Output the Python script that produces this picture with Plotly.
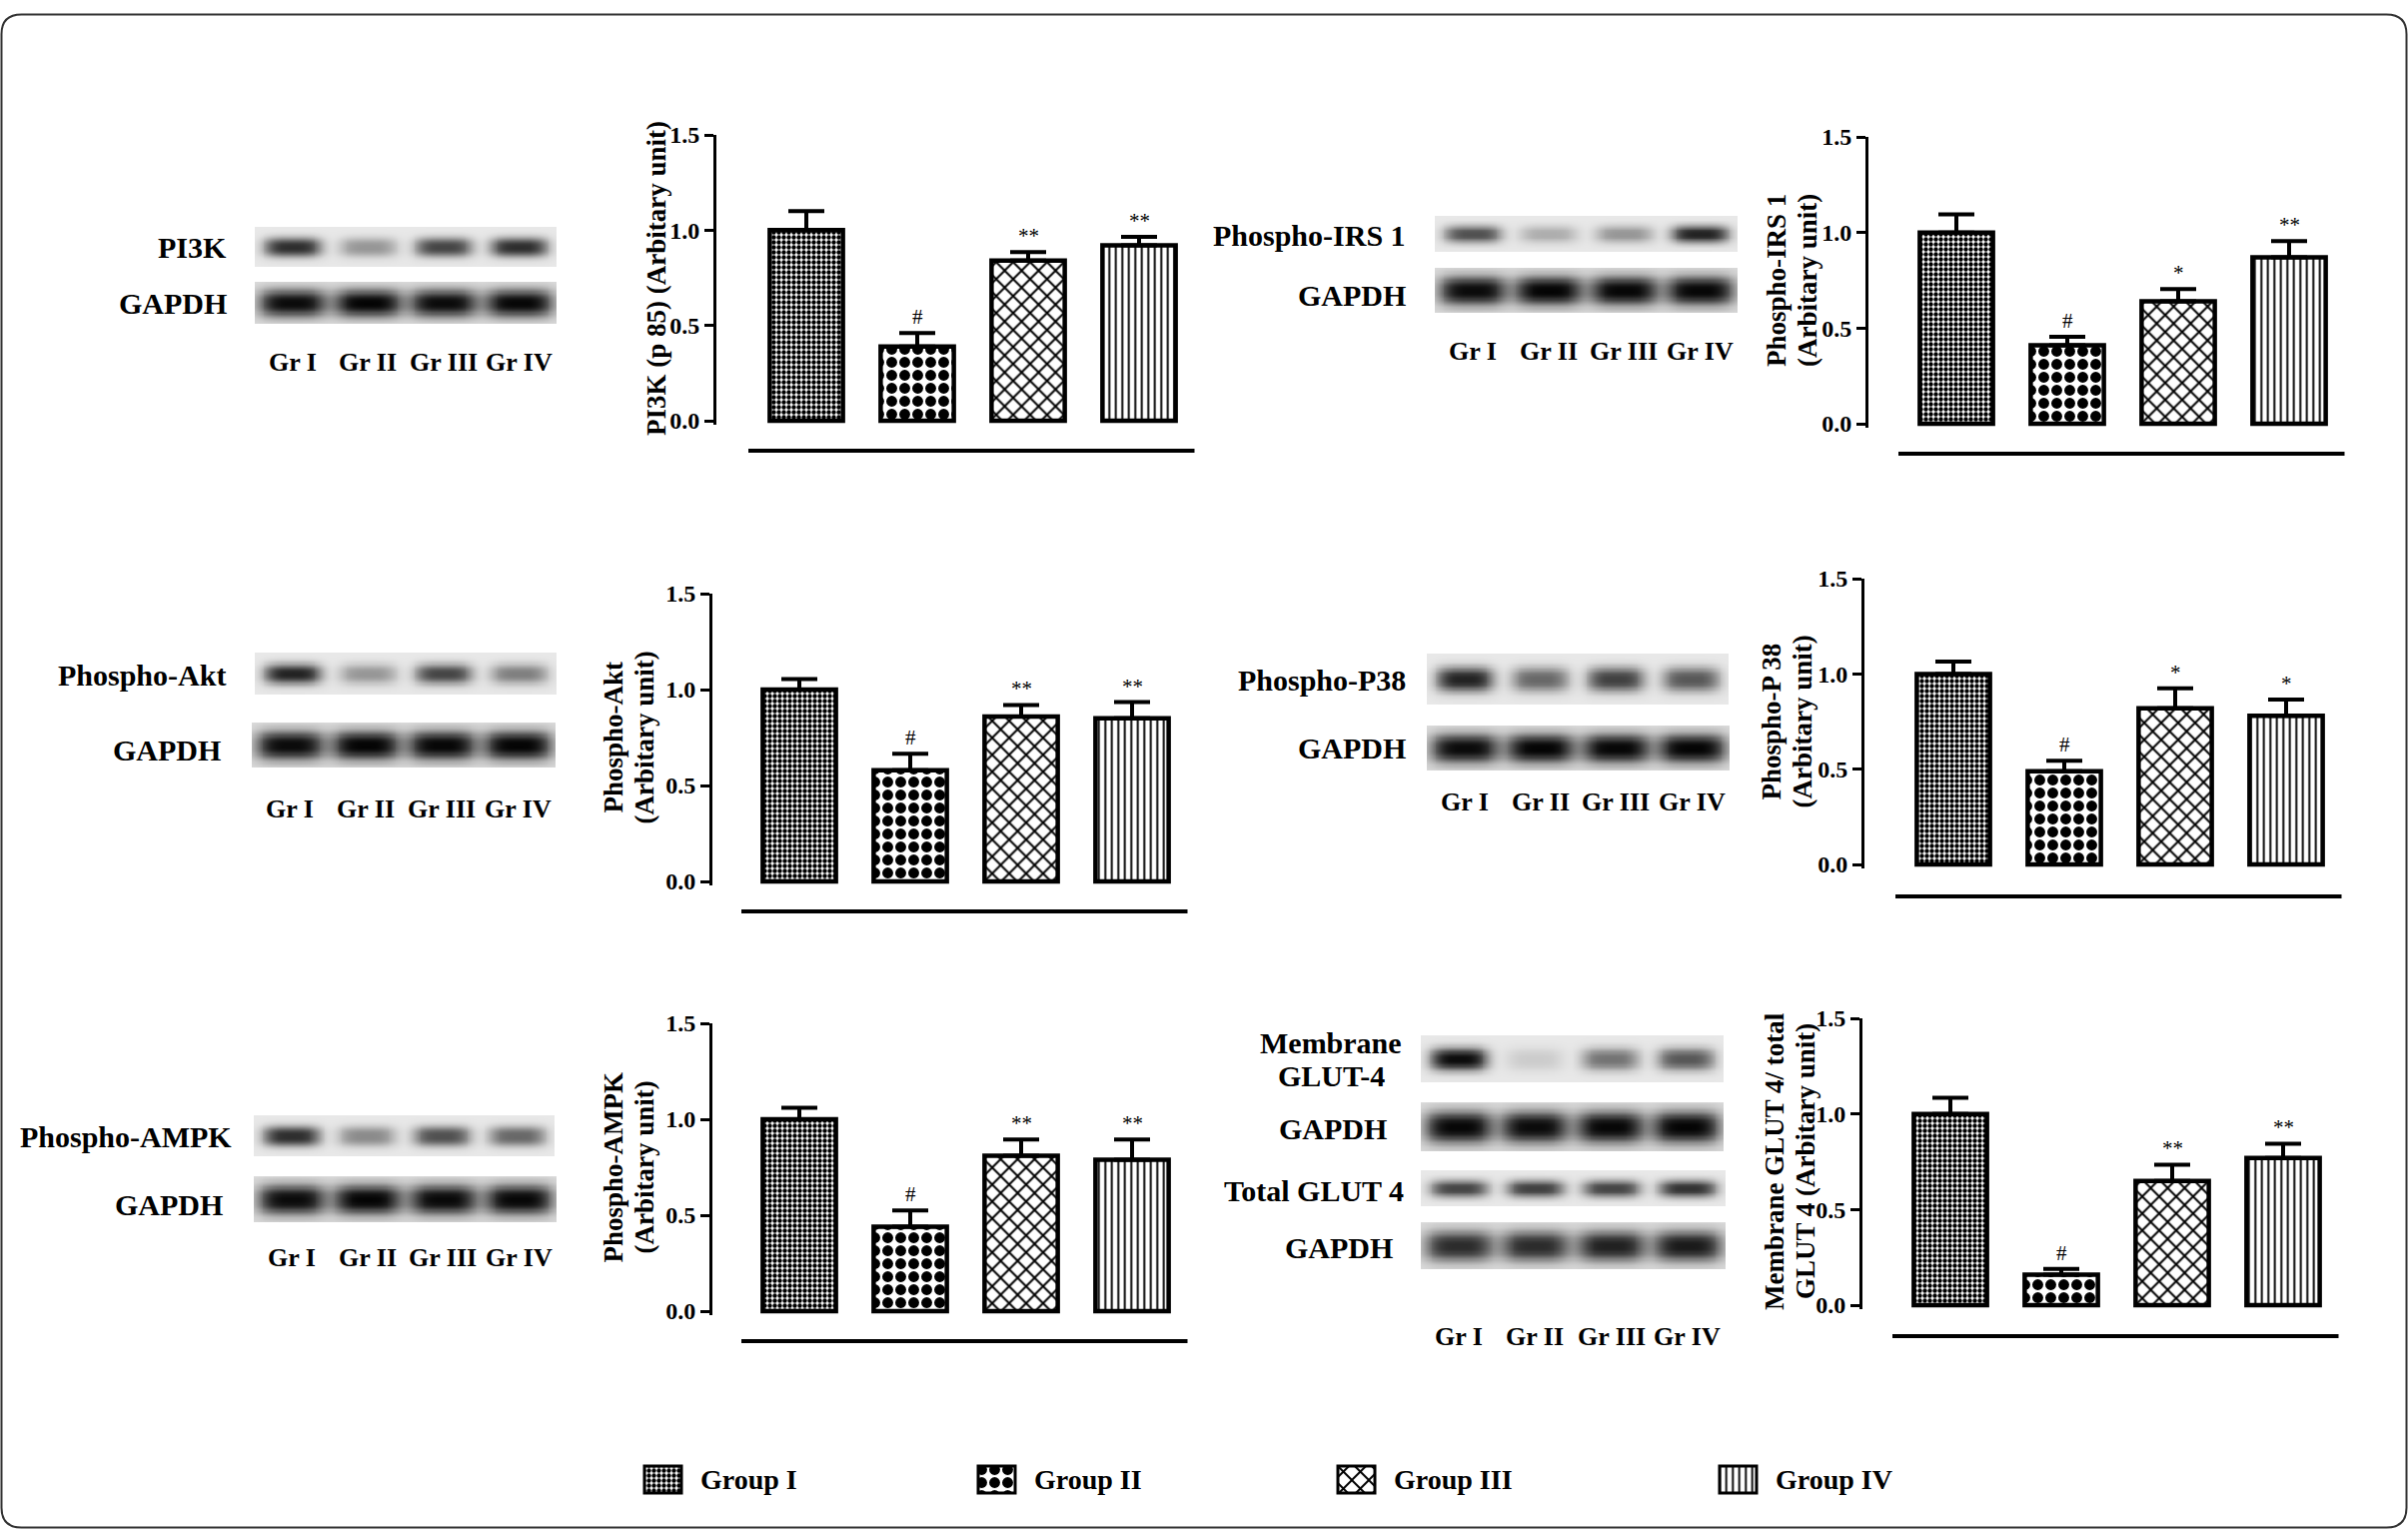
import numpy as np
import plotly.graph_objects as go

W, H = 2410, 1540

groups = ["Group I", "Group II", "Group III", "Group IV"]
lanes = ["Gr I", "Gr II", "Gr III", "Gr IV"]
tick_vals = [0.0, 0.5, 1.0, 1.5]
tick_text = ["0.0", "0.5", "1.0", "1.5"]

# densitometry, mean and SEM per group
pi3k_mean = [1.00, 0.39, 0.84, 0.92]
pi3k_sem = [0.10, 0.07, 0.045, 0.045]
pi3k_sig = ["", "#", "**", "**"]

irs1_mean = [1.00, 0.41, 0.64, 0.87]
irs1_sem = [0.095, 0.045, 0.065, 0.085]
irs1_sig = ["", "#", "*", "**"]

akt_mean = [1.00, 0.58, 0.86, 0.85]
akt_sem = [0.055, 0.085, 0.06, 0.085]
akt_sig = ["", "#", "**", "**"]

p38_mean = [1.00, 0.49, 0.82, 0.78]
p38_sem = [0.065, 0.055, 0.105, 0.085]
p38_sig = ["", "#", "*", "*"]

ampk_mean = [1.00, 0.44, 0.81, 0.79]
ampk_sem = [0.06, 0.085, 0.085, 0.105]
ampk_sig = ["", "#", "**", "**"]

glut4_mean = [1.00, 0.16, 0.65, 0.77]
glut4_sem = [0.085, 0.03, 0.085, 0.075]
glut4_sig = ["", "#", "**", "**"]

# band darkness per lane on the blots (0 = no band, 1 = black)
pi3k_band = [0.80, 0.35, 0.70, 0.80]
pi3k_gapdh = [0.95, 0.98, 0.95, 0.97]
irs1_band = [0.65, 0.25, 0.35, 0.85]
irs1_gapdh = [0.95, 0.98, 0.97, 0.97]
akt_band = [0.85, 0.35, 0.70, 0.45]
akt_gapdh = [0.95, 0.98, 0.97, 0.98]
p38_band = [0.85, 0.55, 0.72, 0.62]
p38_gapdh = [0.95, 0.98, 0.97, 0.98]
ampk_band = [0.80, 0.40, 0.65, 0.55]
ampk_gapdh = [0.95, 0.98, 0.96, 0.97]
mglut4_band = [0.95, 0.12, 0.50, 0.62]
mglut4_gapdh = [0.97, 0.95, 0.97, 0.98]
tglut4_band = [0.70, 0.72, 0.70, 0.78]
tglut4_gapdh = [0.80, 0.80, 0.85, 0.88]

FONT = "Liberation Serif, Times New Roman, serif"
S = 111  # px between bar centres

# the photographed page comes out a little squashed in height; undo that
Y_OFF, Y_SCALE = 13.0, 0.985


def fx(px):
    return px / W


def fy(py):
    return 1 - ((py - Y_OFF) / Y_SCALE) / H


patterns = [
    dict(shape=".", size=5, solidity=0.6, fgcolor="black", bgcolor="white", fgopacity=1),
    dict(shape=".", size=13, solidity=0.55, fgcolor="black", bgcolor="white", fgopacity=1),
    dict(shape="x", size=12, solidity=0.3, fgcolor="black", bgcolor="white", fgopacity=1),
    dict(shape="|", size=6.5, solidity=0.3, fgcolor="black", bgcolor="white", fgopacity=1),
]

# band shape: (half width in lanes, half height in blot units, background)
band_style = {"target": (0.38, 0.24, 0.09), "gapdh": (0.45, 0.32, 0.14)}

panels = [
    dict(mean=pi3k_mean, sem=pi3k_sem, sig=pi3k_sig,
         ytitle=["PI3K (p 85) (Arbitary unit)"], title_x=657,
         axis_x=717, c0=807, y0=421, y15=135, sep_y=451, lane_y=362,
         blots=[(pi3k_band, (255, 557, 227, 267), "target"),
                (pi3k_gapdh, (255, 557, 282, 324), "gapdh")],
         labels=[("PI3K", 229, 247, "right"), ("GAPDH", 229, 303, "right")]),
    dict(mean=irs1_mean, sem=irs1_sem, sig=irs1_sig,
         ytitle=["Phospho-IRS 1", "(Arbitary unit)"], title_x=1793,
         axis_x=1870, c0=1958, y0=424, y15=137, sep_y=454, lane_y=351,
         blots=[(irs1_band, (1436, 1739, 216, 252), "target"),
                (irs1_gapdh, (1436, 1739, 268, 313), "gapdh")],
         labels=[("Phospho-IRS 1", 1409, 235, "right"), ("GAPDH", 1409, 295, "right")]),
    dict(mean=akt_mean, sem=akt_sem, sig=akt_sig,
         ytitle=["Phospho-Akt", "(Arbitary unit)"], title_x=630,
         axis_x=713, c0=800, y0=882, y15=594, sep_y=912, lane_y=809,
         blots=[(akt_band, (255, 557, 653, 695), "target"),
                (akt_gapdh, (252, 556, 723, 768), "gapdh")],
         labels=[("Phospho-Akt", 228, 675, "right"), ("GAPDH", 223, 750, "right")]),
    dict(mean=p38_mean, sem=p38_sem, sig=p38_sig,
         ytitle=["Phospho-P 38", "(Arbitary unit)"], title_x=1789,
         axis_x=1866, c0=1955, y0=865, y15=579, sep_y=897, lane_y=802,
         blots=[(p38_band, (1428, 1730, 654, 705), "target"),
                (p38_gapdh, (1428, 1731, 726, 771), "gapdh")],
         labels=[("Phospho-P38", 1409, 680, "right"), ("GAPDH", 1409, 748, "right")]),
    dict(mean=ampk_mean, sem=ampk_sem, sig=ampk_sig,
         ytitle=["Phospho-AMPK", "(Arbitary unit)"], title_x=630,
         axis_x=713, c0=800, y0=1312, y15=1024, sep_y=1342, lane_y=1258,
         blots=[(ampk_band, (254, 555, 1116, 1157), "target"),
                (ampk_gapdh, (254, 557, 1177, 1223), "gapdh")],
         labels=[("Phospho-AMPK", 234, 1137, "right"), ("GAPDH", 225, 1205, "right")]),
    dict(mean=glut4_mean, sem=glut4_sem, sig=glut4_sig,
         ytitle=["Membrane GLUT 4/ total", "GLUT 4 (Arbitary unit)"], title_x=1791,
         axis_x=1864, c0=1952, y0=1306, y15=1019, sep_y=1337, lane_y=1337,
         blots=[(mglut4_band, (1422, 1725, 1036, 1083), "target"),
                (mglut4_gapdh, (1422, 1725, 1103, 1152), "gapdh"),
                (tglut4_band, (1422, 1727, 1171, 1207), "target"),
                (tglut4_gapdh, (1422, 1727, 1223, 1270), "gapdh")],
         labels=[("Membrane", 1332, 1043, "center"), ("GLUT-4", 1332, 1076, "center"),
                 ("GAPDH", 1334, 1129, "center"), ("Total GLUT 4", 1315, 1191, "center"),
                 ("GAPDH", 1340, 1248, "center")]),
]


def blot_image(dark, style):
    wx, wy, bg = band_style[style]
    xs = np.linspace(0, 4, 161)
    ys = np.linspace(0, 1, 41)
    X, Y = np.meshgrid(xs, ys)
    z = np.full(X.shape, bg)
    prof_y = np.exp(-(np.abs(Y - 0.5) / wy) ** 2.5)
    for i, d in enumerate(dark):
        prof_x = np.exp(-(np.abs(X - (i + 0.5)) / wx) ** 4)
        z = z + (1 - bg) * d * prof_x * prof_y
    return xs, ys, np.clip(z, 0, 1)


fig = go.Figure()
layout = {}
annotations = []
shapes = []
n = 0


def ax_names(k):
    return ("x" if k == 1 else f"x{k}"), ("y" if k == 1 else f"y{k}")


for p in panels:
    # bar chart
    n += 1
    xr, yr = ax_names(n)
    ppu = (p["y0"] - p["y15"]) / 1.5
    pad = 0.02
    left = -(p["c0"] - p["axis_x"]) / S
    layout[f"xaxis{n}"] = dict(domain=[fx(p["axis_x"]), fx(p["c0"] + 3.5 * S)],
                               range=[left, 3.5], visible=False, anchor=yr,
                               type="category", categoryorder="array", categoryarray=groups)
    layout[f"yaxis{n}"] = dict(domain=[fy(p["y0"] + pad * ppu), fy(p["y15"])],
                               range=[-pad, 1.5], anchor=xr,
                               showline=True, linecolor="black", linewidth=3,
                               ticks="outside", ticklen=9, tickwidth=3, tickcolor="black",
                               tickmode="array", tickvals=tick_vals, ticktext=tick_text,
                               tickfont=dict(family=FONT, size=24, color="black", weight="bold"),
                               showgrid=False, zeroline=False)
    for i, g in enumerate(groups):
        fig.add_trace(go.Bar(
            x=[g], y=[p["mean"][i]], width=0.66, xaxis=xr, yaxis=yr,
            marker=dict(color="white", line=dict(color="black", width=4.5), pattern=patterns[i]),
            error_y=dict(type="data", symmetric=False, array=[p["sem"][i]], arrayminus=[0],
                         color="black", thickness=4, width=18),
            showlegend=False, hoverinfo="skip"))
        if p["sig"][i]:
            annotations.append(dict(x=g, y=p["mean"][i] + p["sem"][i], xref=xr, yref=yr,
                                    text=p["sig"][i], showarrow=False, yanchor="bottom", yshift=2,
                                    font=dict(family=FONT, size=21, color="black")))
    shapes.append(dict(type="line", xref="paper", yref="paper",
                       x0=fx(p["c0"] - 58), x1=fx(p["c0"] + 3.5 * S),
                       y0=fy(p["sep_y"]), y1=fy(p["sep_y"]),
                       line=dict(color="black", width=4)))
    nl = len(p["ytitle"])
    for k, line in enumerate(p["ytitle"]):
        tx = p["title_x"] + (k - (nl - 1) / 2) * 31
        annotations.append(dict(x=fx(tx), y=fy((p["y0"] + p["y15"]) / 2),
                                xref="paper", yref="paper", text=line, textangle=-90,
                                showarrow=False, xanchor="center", yanchor="middle",
                                font=dict(family=FONT, size=27, color="black", weight="bold")))

    # western blots
    for dark, (bx0, bx1, by0, by1), style in p["blots"]:
        n += 1
        xr, yr = ax_names(n)
        xs, ys, z = blot_image(dark, style)
        fig.add_trace(go.Heatmap(x=xs, y=ys, z=z, xaxis=xr, yaxis=yr, zmin=0, zmax=1,
                                 colorscale=[[0, "#ffffff"], [1, "#000000"]], zsmooth="best",
                                 showscale=False, hoverinfo="skip"))
        layout[f"xaxis{n}"] = dict(domain=[fx(bx0), fx(bx1)], range=[0, 4], visible=False, anchor=yr)
        layout[f"yaxis{n}"] = dict(domain=[fy(by1), fy(by0)], range=[0, 1], visible=False, anchor=xr)
    for i, lane in enumerate(lanes):
        annotations.append(dict(x=i + 0.5, y=fy(p["lane_y"]), xref=xr, yref="paper", text=lane,
                                showarrow=False, xanchor="center", yanchor="middle",
                                font=dict(family=FONT, size=26, color="black", weight="bold")))
    for text, lx, ly, anchor in p["labels"]:
        annotations.append(dict(x=fx(lx), y=fy(ly), xref="paper", yref="paper", text=text,
                                showarrow=False, xanchor=anchor, yanchor="middle",
                                font=dict(family=FONT, size=30, color="black", weight="bold")))

# legend keys
key_x = [645, 979, 1339, 1721]
for i, g in enumerate(groups):
    n += 1
    xr, yr = ax_names(n)
    kx0, kx1, ky0, ky1 = key_x[i], key_x[i] + 37, 1467, 1494
    e = 3
    ex = e / (kx1 - kx0)
    ey = e / (ky1 - ky0)
    fig.add_trace(go.Bar(x=[0], y=[1], width=1, xaxis=xr, yaxis=yr,
                         marker=dict(color="white", line=dict(color="black", width=3),
                                     pattern=patterns[i]),
                         showlegend=False, hoverinfo="skip"))
    layout[f"xaxis{n}"] = dict(domain=[fx(kx0 - e), fx(kx1 + e)], range=[-0.5 - ex, 0.5 + ex],
                               visible=False, anchor=yr)
    layout[f"yaxis{n}"] = dict(domain=[fy(ky1 + e), fy(ky0 - e)], range=[-ey, 1 + ey],
                               visible=False, anchor=xr)
    annotations.append(dict(x=fx(kx1 + 17), y=fy(1480), xref="paper", yref="paper", text=g,
                            showarrow=False, xanchor="left", yanchor="middle",
                            font=dict(family=FONT, size=28, color="black", weight="bold")))

# rounded frame round the whole figure, drawn at the page edges
r = 20
a, b, c, d = 1.5 / W, 1.5 / H, 1 - 1.5 / W, 1 - 1.5 / H
rx, ry = r / W, r / H
frame = (f"M {a + rx},{1 - b} L {c - rx},{1 - b} Q {c},{1 - b} {c},{1 - b - ry} "
         f"L {c},{1 - d + ry} Q {c},{1 - d} {c - rx},{1 - d} "
         f"L {a + rx},{1 - d} Q {a},{1 - d} {a},{1 - d + ry} "
         f"L {a},{1 - b - ry} Q {a},{1 - b} {a + rx},{1 - b} Z")
shapes.append(dict(type="path", xref="paper", yref="paper", path=frame,
                   line=dict(color="#333333", width=2)))

fig.update_layout(**layout)
fig.update_layout(
    autosize=True, margin=dict(l=0, r=0, t=0, b=0),
    paper_bgcolor="white", plot_bgcolor="rgba(0,0,0,0)",
    barmode="overlay", showlegend=False,
    annotations=annotations, shapes=shapes,
    font=dict(family=FONT, color="black"),
)

fig.write_html("out.html", config={"displayModeBar": False},
               default_width="100vw", default_height="100vh",
               post_script="document.body.style.margin='0';document.body.style.overflow='hidden';")
